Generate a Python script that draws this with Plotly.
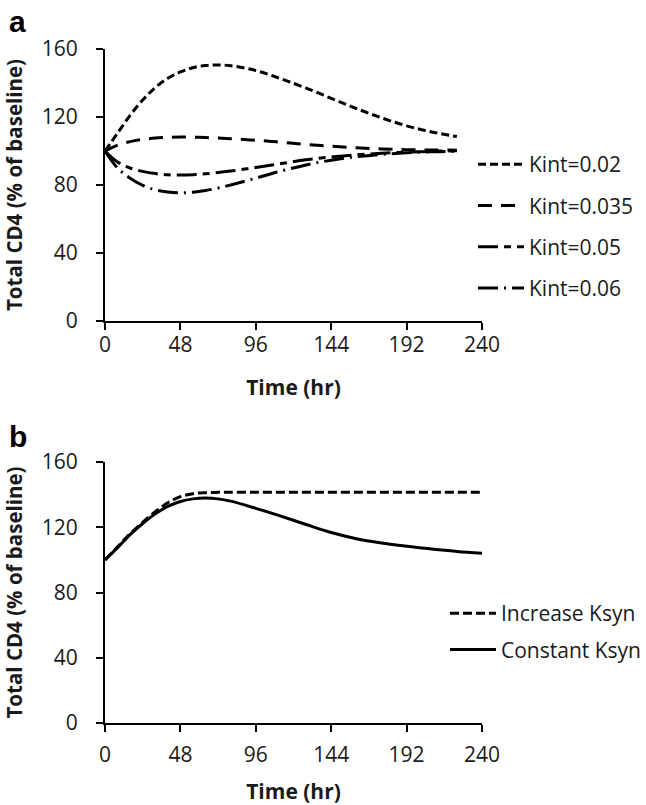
import plotly.graph_objects as go

# ---------------- Data ----------------
t_a = [0, 8, 16, 24, 32, 40, 48, 56, 64, 72, 80, 96, 112, 128, 144, 160, 176, 192, 208, 224]
kint_002 = [100, 110.5, 121, 130, 137.3, 142.8, 146.5, 149, 150.3, 150.6, 150.2, 147.3, 142.5, 137, 131, 125, 119.5, 114.8, 111.2, 108.5]
kint_0035 = [100, 103.5, 105.5, 106.8, 107.6, 108, 108.2, 108.1, 107.9, 107.6, 107.2, 106.3, 105.2, 103.8, 102.8, 101.9, 101.2, 100.8, 100.6, 100.5]
kint_005 = [100, 93.5, 90, 88, 86.7, 86, 85.9, 86.1, 86.6, 87.3, 88.2, 90.3, 92.6, 94.8, 96.5, 97.7, 98.7, 99.3, 99.8, 100.2]
kint_006 = [100, 90, 84, 79.8, 77.2, 75.9, 75.4, 75.8, 76.8, 78.2, 80, 84, 88.2, 91.8, 94.6, 96.6, 98, 98.9, 99.5, 99.8]

t_b = [0, 8, 16, 24, 32, 40, 48, 56, 64, 72, 80, 96, 112, 128, 144, 160, 176, 192, 208, 224, 240]
increase_ksyn = [100, 108, 116, 123, 129.5, 135, 138.8, 140.6, 141.2, 141.4, 141.5, 141.5, 141.5, 141.5, 141.5, 141.5, 141.5, 141.5, 141.5, 141.5, 141.5]
constant_ksyn = [100, 107.5, 115.5, 122.3, 128.2, 132.8, 135.8, 137.4, 137.9, 137.4, 136, 131.6, 126.8, 121.7, 116.8, 113, 110.4, 108.4, 106.6, 105.2, 104]

x_ticks = [0, 48, 96, 144, 192, 240]
y_ticks = [0, 40, 80, 120, 160]

names_a = ["Kint=0.02", "Kint=0.035", "Kint=0.05", "Kint=0.06"]
names_b = ["Increase Ksyn", "Constant Ksyn"]

# ---------------- Figure ----------------
W, H = 646, 805
ML, MR, MT, MB = 105, 164, 49, 82
PW, PH = W - ML - MR, H - MT - MB


def px2x(p):
    return (p - ML) / PW


def px2y(p):
    return (H - MB - p) / PH


fig = go.Figure()

dash_a = ["8px,4px", "14px,9px", "20px,6px,7px,6px", "20px,6px,2px,6px"]
series_a = [kint_002, kint_0035, kint_005, kint_006]
for i, (nm, ys) in enumerate(zip(names_a, series_a)):
    fig.add_trace(go.Scatter(x=t_a, y=ys, name=nm, mode="lines", line_shape="spline",
                             line=dict(color="black", width=3, dash=dash_a[i]),
                             xaxis="x", yaxis="y", legend="legend", legendgroup="a%d" % i))

dash_b = ["9px,4px", "solid"]
series_b = [increase_ksyn, constant_ksyn]
for i, (nm, ys) in enumerate(zip(names_b, series_b)):
    fig.add_trace(go.Scatter(x=t_b, y=ys, name=nm, mode="lines", line_shape="spline",
                             line=dict(color="black", width=3, dash=dash_b[i]),
                             xaxis="x2", yaxis="y2", legend="legend2", legendgroup="b%d" % i))

TXT = "#1a1a1a"
tickfont = dict(family="Open Sans", size=21, color=TXT)
titlefont = dict(family="Open Sans", size=21, color=TXT, weight="bold")
ytitlefont = dict(family="Open Sans", size=20.5, color=TXT, weight="bold")

xcommon = dict(range=[0, 240], tickvals=x_ticks, showgrid=False, zeroline=False, automargin=False,
               showline=True, linecolor="black", linewidth=2, ticks="outside", ticklen=7,
               tickwidth=2, tickcolor="black", tickfont=tickfont, domain=[0, 1])
ycommon = dict(range=[0, 160], tickvals=y_ticks, showgrid=False, zeroline=False, automargin=False,
               showline=True, linecolor="black", linewidth=2, ticks="outside", ticklen=7,
               tickwidth=2, tickcolor="black", tickfont=tickfont, ticklabelstandoff=14,
               title=dict(text="Total CD4 (% of baseline)", font=ytitlefont, standoff=15))

legfont = dict(family="Open Sans", size=21, color=TXT)
fig.update_layout(
    width=W, height=H,
    margin=dict(l=ML, r=MR, t=MT, b=MB, autoexpand=False),
    paper_bgcolor="white", plot_bgcolor="white",
    xaxis=dict(xcommon, anchor="y", ticklabelstandoff=-3,
               title=dict(text="Time (hr)", font=titlefont, standoff=23)),
    yaxis=dict(ycommon, domain=[px2y(321), px2y(49)], anchor="x"),
    xaxis2=dict(xcommon, anchor="y2", ticklabelstandoff=5,
                title=dict(text="Time (hr)", font=titlefont, standoff=28)),
    yaxis2=dict(ycommon, domain=[px2y(723), px2y(462)], anchor="x2"),
    legend=dict(xref="container", yref="container", x=473 / W, y=1 - 144 / H,
                xanchor="left", yanchor="top", font=legfont,
                traceorder="grouped", tracegroupgap=11, bgcolor="rgba(0,0,0,0)", itemwidth=46),
    legend2=dict(xref="container", yref="container", x=445 / W, y=1 - 593 / H,
                 xanchor="left", yanchor="top", font=legfont,
                 traceorder="grouped", tracegroupgap=6, bgcolor="rgba(0,0,0,0)", itemwidth=46),
    showlegend=True,
    annotations=[
        dict(text="a", x=px2x(7), y=px2y(3), xref="paper", yref="paper", xanchor="left", yanchor="top",
             showarrow=False, font=dict(family="Liberation Sans", size=30, color="black", weight="bold")),
        dict(text="b", x=px2x(7), y=px2y(418), xref="paper", yref="paper", xanchor="left", yanchor="top",
             showarrow=False, font=dict(family="Liberation Sans", size=30, color="black", weight="bold")),
    ],
)

fig.write_html("out.html",
               config=dict(displayModeBar=False),
               post_script="document.body.style.margin='0';document.body.style.overflow='hidden';"
                           "document.documentElement.style.overflow='hidden';")
